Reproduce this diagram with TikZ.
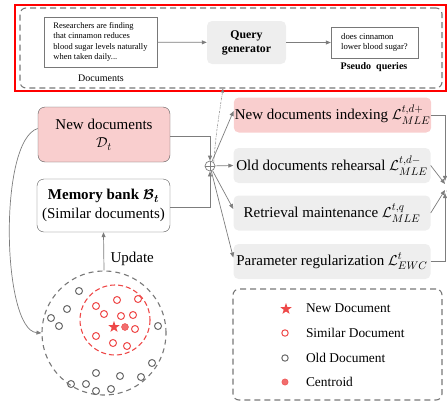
\documentclass[tikz,border=0pt]{standalone}
\usepackage{amsmath,bm}
\usepackage{fontspec}
\setmainfont{Liberation Serif}
\usetikzlibrary{arrows.meta,shapes.geometric}
\begin{document}
\begin{tikzpicture}[x=1pt,y=-1pt,
    conn/.style={draw=myarrow,line width=0.7pt,-{Triangle[length=5pt,width=4pt]}},
    dashbox/.style={draw=mydash,line width=1.1pt,dash pattern=on 6pt off 4pt,rounded corners=6pt},
    bigtext/.style={font=\fontsize{15}{18.5}\selectfont},
    lossbox/.style={bigtext,fill=mybox,rounded corners=5pt,minimum width=197pt,minimum height=35pt,inner sep=1pt},
    newstar/.style={star,star points=5,star point ratio=2.5,fill=myred,minimum size=12pt,inner sep=0pt},
    dot/.style={line width=1pt}]
    \definecolor{mypink}{RGB}{249,206,206}
    \definecolor{mybox}{RGB}{238,238,238}
    \definecolor{myarrow}{RGB}{125,125,125}
    \definecolor{mydash}{RGB}{120,120,120}
    \definecolor{myred}{RGB}{238,72,72}
    \definecolor{mygray}{RGB}{105,105,105}
    \definecolor{myframe}{RGB}{90,90,90}

    \useasboundingbox (0,0) rectangle (447,402);

    % query generation
    \draw[red, line width=1.1pt] (15,5) rectangle (446,91);
    \node (genbox) [dashbox, minimum width=422pt, minimum height=80pt] at (231,48) {};
    \node (doc) [draw=mydash, fill=white, minimum width=113pt, minimum height=50pt, align=left,
        font=\fontsize{8.5}{10.3}\selectfont] at (100.5,42) {Researchers are finding\\that cinnamon reduces\\blood sugar levels naturally\\when taken daily...};
    \node (doclabel) [font=\fontsize{10}{12}\selectfont] at (101,78) {Documents};
    \node (qgen) [fill=mybox, rounded corners=5pt, minimum width=79pt, minimum height=43pt, align=center,
        font=\fontsize{11.8}{14}\selectfont\bfseries] at (246.5,42.5) {Query\\generator};
    \node (pseudo) [draw=mydash, fill=white, minimum width=87pt, minimum height=31pt, align=left,
        font=\fontsize{8.7}{10.3}\selectfont] at (374.5,42.5) {does cinnamon\\lower blood sugar?};
    \node (pslabel) [font=\fontsize{10}{12}\selectfont\bfseries] at (374,67) {Pseudo\ \ queries};
    \draw[conn] (doc) -- (qgen);
    \draw[conn] (qgen) -- (pseudo);

    % inputs
    \node (newdoc) [bigtext, draw=myframe, fill=mypink, rounded corners=7pt, minimum width=132pt, minimum height=55pt, align=center] at (104,134.5) {New documents\\$\mathcal{D}_t$};
    \node (memory) [bigtext, draw=myframe, fill=white, rounded corners=7pt, minimum width=133pt, minimum height=53pt, align=center] at (103.5,205.5) {\textbf{Memory bank} $\bm{\mathcal{B}_t}$\\(Similar documents)};
    \node (plus) [circle, draw=myarrow, line width=0.7pt, minimum size=10pt, inner sep=0pt] at (210,166) {};
    \draw[myarrow, line width=0.7pt] (plus.north) -- (plus.south) (plus.west) -- (plus.east);
    \draw[conn] ([yshift=-1.5pt]newdoc.east) -| (plus.north);
    \draw[conn] ([yshift=-1.5pt]memory.east) -| (plus.south);
    \draw[myarrow, line width=0.5pt, dash pattern=on 2pt off 1pt on 0.5pt off 1pt, -{Triangle[length=4pt,width=3pt]}]
        (plus.north east) .. controls (216,135) .. ([xshift=-8pt]genbox.south);

    % losses
    \node (index) [lossbox, fill=mypink] at (332.5,115) {New documents indexing $\mathcal{L}^{t,d+}_{MLE}$};
    \node (rehearse) [lossbox] at (332,165.5) {Old documents rehearsal $\mathcal{L}^{t,d-}_{MLE}$};
    \node (retrieve) [lossbox] at (332,213) {Retrieval maintenance $\mathcal{L}^{t,q}_{MLE}$};
    \node (regular) [lossbox] at (332,261.5) {Parameter regularization $\mathcal{L}^{t}_{EWC}$};
    \foreach \n/\s in {index/4pt, rehearse/0pt, retrieve/4pt, regular/4pt}
        \draw[conn] (plus) -- ([yshift=\s]\n.west);
    \node (total) [bigtext, anchor=west, inner sep=1pt] at (445,187) {$\mathcal{L}$};
    \draw[conn] (index.east) -- (index.east -| total.north west) -- (total.north west);
    \draw[conn] (rehearse.east) -- ([yshift=3pt]total.west);
    \draw[conn] (retrieve.east) -- ([yshift=-3pt]total.west);
    \draw[conn] (regular.east) -- (regular.east -| total.south west) -- (total.south west);

    % document pool
    \node (pool) [circle, draw=mydash, line width=1.1pt, dash pattern=on 5pt off 4pt, minimum size=124pt, inner sep=0pt] at (104,333) {};
    \draw[myred, line width=1.1pt, dash pattern=on 5pt off 3pt] (115,320) circle[radius=35];
    \foreach \x/\y in {117/300,138/299,96/306,104/314,121/316,133/315,135/329,96/336,113/343,127/346}
        \draw[myred, dot] (\x,\y) circle[radius=3.5];
    \foreach \x/\y in {79/291,67/309,51/318,59/326,158/326,152/363,96/373,120/376,141/377,71/384,86/384,96/391,111/389}
        \draw[mygray, dot] (\x,\y) circle[radius=3.5];
    \node (newpt) [newstar] at (114,327) {};
    \fill[myred!80, draw=myred] (125,327) circle[radius=3.5];
    \draw[conn] (pool.north) -- (memory.south) node (upd) [bigtext, pos=0.3, right, xshift=3pt] {Update};
    \draw[conn] ([yshift=6pt]newdoc.west) .. controls (-2,140) and (2,330) .. (pool.west);

    % legend
    \node (legend) [dashbox, minimum width=209pt, minimum height=111pt] at (337.5,344.5) {};
    \node (lstar) [newstar] at (286,309) {};
    \draw[myred, dot] (285,333) circle[radius=3.2];
    \draw[mygray, dot] (285,358) circle[radius=3.2];
    \fill[myred!80, draw=myred] (285,382) circle[radius=3.2];
    \foreach \y/\t [count=\i] in {308/New Document, 333/Similar Document, 358/Old Document, 382/Centroid}
        \node (leg\i) [anchor=west, font=\fontsize{13.4}{15}\selectfont] at (302.5,\y) {\t};
\end{tikzpicture}
\end{document}
